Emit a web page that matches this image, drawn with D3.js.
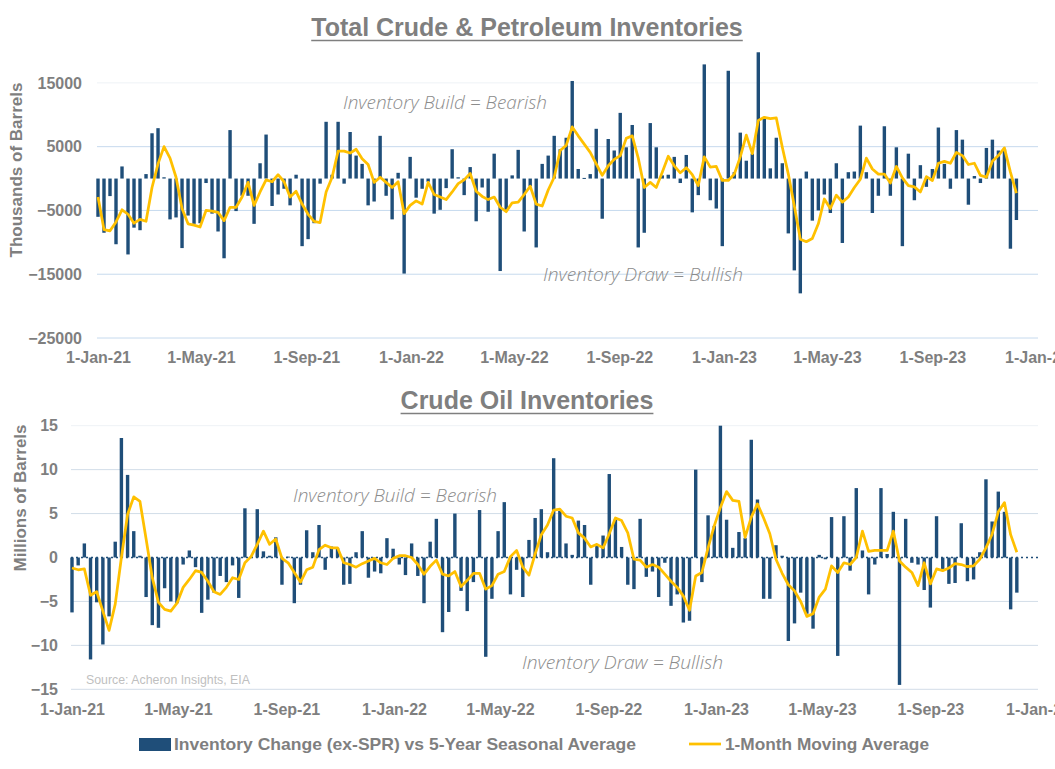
<!DOCTYPE html>
<html>
<head>
<meta charset="utf-8">
<script src="https://cdn.jsdelivr.net/npm/d3@7"></script>
<style>
  body { margin: 0; background: #fff; }
  text { font-family: "Liberation Sans", Arial, sans-serif; }
</style>
</head>
<body>
<div class="article"></div>
<script>
// weekly data, first week ending 1-Jan-21
var startDate = new Date(2021, 0, 1);
var weekCount = 154;

// total crude & petroleum, thousands of barrels vs 5-yr seasonal
var totalChange = [-6000,-8500,-2750,-10300,1900,-11900,-7700,-8100,700,7100,
  7900,200,-6400,-6100,-10900,-5800,-7100,-7000,-700,-5500,
  -8300,-12500,7600,-5100,-2700,-2700,-7100,2400,6900,-4300,
  -2500,-1600,-4200,600,-10600,-9500,-7000,-800,8900,600,
  8900,-800,7300,3600,2300,-4200,-3600,6700,-2700,-6400,
  900,-14900,3400,-3000,-1600,-500,-5500,-4900,-1500,4600,
  200,-2600,1800,-6700,-1400,-5200,3900,-14500,-4900,500,
  4500,-8300,-1200,-10800,2300,3600,6700,4600,6400,15300,
  1500,100,700,7800,-6300,6200,4400,10300,4900,8400,
  -10800,-8500,8700,4900,500,600,3400,-700,3700,-5300,
  -2600,17900,-3400,-4700,-10600,16900,1000,7200,2800,3900,
  19800,9600,1600,6400,2400,-8600,-14400,-18000,1100,-6600,
  -5000,-2500,-5400,2400,-10100,1000,1100,8300,1000,-5400,
  -2700,8200,-2700,4900,-10600,3900,-3400,2100,-1300,1500,
  8000,2300,-1600,7600,6100,-4100,400,-700,4800,6100,
  4400,4600,-11000,-6500];

var totalAvg = [-2900,-8000,-8200,-6800,-4900,-5600,-7000,-6400,-6700,-1400,
  2300,5000,3200,200,-4700,-7100,-7300,-7600,-5000,-5100,
  -5300,-6600,-4500,-4500,-2900,-600,-4200,-2100,-200,-500,
  600,-500,-2900,-2000,-4000,-5600,-6700,-6900,-2100,200,
  4300,4300,4000,4600,3100,2200,-600,200,-600,-1400,
  -500,-5500,-4200,-3500,-4000,-600,-2500,-2900,-3300,-2100,
  -800,-200,800,-2000,-2800,-3300,-2900,-4500,-5200,-3800,
  -3700,-2500,-1200,-4000,-4300,-1800,200,4400,5200,8100,
  6700,5400,4100,2300,500,2000,3000,3600,6300,6700,
  3200,-1400,-600,-1400,1000,3500,2000,900,1700,600,
  -1100,3400,1800,1900,-300,-300,700,3400,6800,3900,
  9100,9600,9400,9500,4900,700,-4300,-9500,-9900,-9400,
  -7100,-3200,-4700,-2600,-3700,-2900,-1400,-100,3200,1500,
  700,700,-700,1900,100,-1100,-1300,-2100,300,-300,
  2400,2700,2400,4100,3600,2200,2400,500,200,2700,
  3600,4800,1000,-2300];

// crude oil, millions of barrels vs 5-yr seasonal
var crudeChange = [-6.25,-0.9,1.6,-11.6,-5.1,-9.9,-6.7,1.8,13.6,9.4,
  3.0,0.2,-4.5,-7.7,-8.0,-3.5,-5.0,-5.2,-0.8,0.8,
  -1.1,-6.3,-4.8,-4.0,-2.1,-2.8,-0.9,-4.6,5.6,0.1,
  5.5,0.7,0.2,2.3,-3.1,0.1,-5.2,-3.1,3.1,0.6,
  3.7,-1.4,1.25,1.1,-3.1,-3.0,0.6,3.0,-2.3,-1.6,
  -1.8,2.2,1.0,-0.8,-2.0,1.6,-2.1,-5.2,1.8,4.4,
  -8.5,-6.2,5.0,-3.8,-6.1,-2.8,5.4,-11.3,-4.7,3.0,
  6.3,-4.2,-1.4,-4.5,2.0,4.5,5.5,0.6,11.3,5.3,
  1.6,0.3,4.2,3.7,-3.1,1.3,2.5,9.5,4.4,1.2,
  -3.1,-3.6,4.4,-2.2,-1.6,-4.5,-0.6,-5.5,-4.2,-7.4,
  -7.2,10.0,-2.8,4.8,3.6,15.0,4.3,1.1,2.9,2.2,
  13.4,6.6,-4.7,-4.7,1.4,0.2,-9.5,-7.5,-4.0,-6.4,
  -8.1,0.3,-0.2,4.6,-11.2,4.7,-1.5,7.9,0.8,-4.2,
  -0.8,7.9,0.4,5.2,-14.5,4.4,-0.6,-0.8,-3.7,-5.7,
  4.7,-1.3,-3.0,-2.9,3.9,-2.7,-2.5,0.6,8.9,4.1,
  7.5,5.2,-5.9,-4.0];

var crudeAvg = [-1.2,-1.4,-1.3,-4.3,-3.9,-6.1,-8.3,-5.3,0,4.9,
  6.9,6.4,2.1,-2.3,-5.1,-5.9,-6.1,-5.2,-3.4,-2.5,
  -1.5,-1.7,-2.7,-3.9,-4.2,-3.4,-2.3,-2.5,-0.6,0.1,
  1.5,3.0,1.5,2.1,-0.1,-0.6,-1.7,-2.8,-1.4,-1.1,
  0.9,1.4,1.1,1.1,-0.6,-0.8,-1.1,-0.7,-0.4,-0.1,
  -0.6,-0.8,-0.1,0.2,0.2,0.0,-0.8,-1.9,-1.0,-0.3,
  -1.9,-2.1,-1.6,-3.3,-2.6,-1.8,-1.8,-3.6,-3.2,-1.9,
  -1.6,0.1,0.8,-1.1,-2.0,0.4,2.6,3.7,5.4,5.5,
  4.7,4.5,2.8,2.2,1.2,1.5,1.1,2.7,4.5,4.2,
  2.8,-0.2,-0.3,-1.1,-0.8,-1.1,-1.9,-2.7,-3.4,-4.4,
  -6.0,-2.1,-1.7,1.1,3.6,5.7,7.5,6.5,6.4,2.3,
  4.6,6.1,4.5,2.7,-0.2,-1.8,-3.1,-3.8,-5.0,-6.7,
  -6.4,-4.5,-3.6,-0.95,-1.7,-0.6,-0.8,0,3.0,0.7,
  0.8,0.8,0.8,3.0,-0.4,-1.1,-1.7,-3.2,-0.6,-3.0,
  -1.3,-1.5,-1.2,-0.7,-0.8,-1.05,-0.95,-0.2,1.1,2.65,
  5.2,6.25,2.6,0.6];

// tick labels
var dateTicks = ["1-Jan-21","1-May-21","1-Sep-21","1-Jan-22","1-May-22","1-Sep-22",
  "1-Jan-23","1-May-23","1-Sep-23","1-Jan-24"];
var totalTicks = [15000, 5000, -5000, -15000, -25000];
var crudeTicks = [15, 10, 5, 0, -5, -10, -15];

var svgWidth = 1055;
var svgHeight = 769;
var barColor = "#1f4e79";
var lineColor = "#ffc000";
var greyText = "#7f7f7f";

var parseTick = d3.timeParse("%d-%b-%y");
var weeks = d3.range(weekCount).map(i => d3.timeDay.offset(startDate, 7 * i));
var tickDates = dateTicks.map(parseTick);

var svg = d3.select(".article")
  .append("svg")
  .attr("width", svgWidth)
  .attr("height", svgHeight);

svg.append("rect").attr("width", svgWidth).attr("height", svgHeight).attr("fill", "#fff");

function drawPanel(p) {
  var xScale = d3.scaleTime()
    .domain([new Date(2021, 0, 1), new Date(2024, 0, 1)])
    .range([p.left, p.right]);

  var yScale = d3.scaleLinear()
    .domain(p.yDomain)
    .range([p.bottom, p.top]);

  var g = svg.append("g");

  //gridlines
  g.append("g")
    .selectAll("line")
    .data(p.ticks.filter(t => t !== 0))
    .enter()
    .append("line")
    .attr("x1", p.left - 1)
    .attr("x2", p.gridRight)
    .attr("y1", d => yScale(d))
    .attr("y2", d => yScale(d))
    .attr("stroke", d => d === p.ticks[0] ? "#eef2f6" : p.gridColor)
    .attr("stroke-width", 1);

  if (p.dotZero) {
    g.append("line")
      .attr("x1", p.left - 1)
      .attr("x2", p.gridRight)
      .attr("y1", yScale(0))
      .attr("y2", yScale(0))
      .attr("stroke", barColor)
      .attr("stroke-width", 1.5)
      .attr("stroke-dasharray", "2,3");
  }

  //bars
  var bw = 3.4;
  g.append("g")
    .selectAll("rect")
    .data(p.values)
    .enter()
    .append("rect")
    .attr("x", (d, i) => xScale(weeks[i]) - bw / 2)
    .attr("y", d => yScale(Math.max(0, d)))
    .attr("width", bw)
    .attr("height", d => Math.max(1, Math.abs(yScale(d) - yScale(0))))
    .attr("fill", barColor);

  //moving average
  var line = d3.line()
    .x((d, i) => xScale(weeks[i]))
    .y(d => yScale(d));

  g.append("path")
    .datum(p.avg)
    .attr("d", line)
    .attr("fill", "none")
    .attr("stroke", lineColor)
    .attr("stroke-width", 2.75)
    .attr("stroke-linejoin", "round");

  //axes
  var leftAxis = d3.axisLeft(yScale)
    .tickValues(p.ticks)
    .tickSize(0)
    .tickPadding(p.left - p.labelRight)
    .tickFormat(d3.format("d"));

  var bottomAxis = d3.axisBottom(xScale)
    .tickValues(tickDates)
    .tickSize(0)
    .tickPadding(14)
    .tickFormat((d, i) => dateTicks[i]);

  var ya = g.append("g")
    .attr("transform", `translate(${p.left}, 0)`)
    .call(leftAxis);
  var xa = g.append("g")
    .attr("transform", `translate(0, ${p.bottom})`)
    .call(bottomAxis);

  [ya, xa].forEach(a => {
    a.select(".domain").remove();
    a.selectAll("text")
      .attr("fill", greyText)
      .attr("font-size", "16px")
      .attr("font-weight", "bold")
      .style("font-family", "'Liberation Sans', Arial, sans-serif");
  });

  //axis title
  g.append("text")
    .attr("transform", `translate(${p.yTitleX}, ${p.yTitleY}) rotate(-90)`)
    .attr("text-anchor", "middle")
    .attr("dominant-baseline", "central")
    .attr("fill", greyText)
    .attr("font-size", "17px")
    .attr("font-weight", "bold")
    .attr("textLength", p.yTitleLen)
    .attr("lengthAdjust", "spacingAndGlyphs")
    .text(p.yTitle);

  //chart title with underline
  var title = g.append("text")
    .attr("x", 527)
    .attr("y", p.titleY)
    .attr("text-anchor", "middle")
    .attr("fill", greyText)
    .attr("font-size", "25px")
    .attr("font-weight", "bold")
    .text(p.title);
  var tw = title.node().getComputedTextLength();
  g.append("line")
    .attr("x1", 527 - tw / 2)
    .attr("x2", 527 + tw / 2)
    .attr("y1", p.titleY + 4.5)
    .attr("y2", p.titleY + 4.5)
    .attr("stroke", greyText)
    .attr("stroke-width", 1.5);

  //annotations
  p.notes.forEach(n => {
    g.append("text")
      .attr("x", n.x)
      .attr("y", n.y)
      .attr("fill", "#8c8c8c")
      .attr("font-size", "19px")
      .attr("font-style", "italic")
      .attr("font-weight", 300)
      .attr("textLength", n.w)
      .attr("lengthAdjust", "spacingAndGlyphs")
      .style("font-family", "'Open Sans', 'Noto Sans', sans-serif")
      .text(n.text);
  });
}

drawPanel({
  values: totalChange, avg: totalAvg, ticks: totalTicks,
  yDomain: [-25000, 20000], left: 98, right: 1037, gridRight: 1038,
  top: 51, bottom: 338, labelRight: 82, gridColor: "#c6daee",
  yTitle: "Thousands of Barrels", yTitleX: 16, yTitleY: 170, yTitleLen: 175,
  title: "Total Crude & Petroleum Inventories", titleY: 36,
  notes: [
    {text: "Inventory Build = Bearish", x: 343, y: 109, w: 204},
    {text: "Inventory Draw = Bullish", x: 543, y: 281, w: 200}
  ]
});

drawPanel({
  values: crudeChange, avg: crudeAvg, ticks: crudeTicks,
  yDomain: [-15, 15], left: 72, right: 1038, gridRight: 1038,
  top: 425.7, bottom: 689.3, labelRight: 58, gridColor: "#d2dde8",
  dotZero: true,
  yTitle: "Millions of Barrels", yTitleX: 20, yTitleY: 498, yTitleLen: 147,
  title: "Crude Oil Inventories", titleY: 409,
  notes: [
    {text: "Inventory Build = Bearish", x: 293, y: 502, w: 204},
    {text: "Inventory Draw = Bullish", x: 522, y: 669, w: 201}
  ]
});

// source note
svg.append("text")
  .attr("x", 86)
  .attr("y", 684)
  .attr("fill", "#bfbfbf")
  .attr("font-size", "13px")
  .attr("textLength", 164)
  .attr("lengthAdjust", "spacingAndGlyphs")
  .text("Source: Acheron Insights, EIA");

// legend
var legend = svg.append("g");
legend.append("rect")
  .attr("x", 139).attr("y", 738)
  .attr("width", 32).attr("height", 13)
  .attr("fill", barColor);
legend.append("text")
  .attr("x", 174).attr("y", 750)
  .attr("fill", greyText)
  .attr("font-size", "17px")
  .attr("font-weight", "bold")
  .attr("textLength", 462)
  .attr("lengthAdjust", "spacingAndGlyphs")
  .text("Inventory Change (ex-SPR) vs 5-Year Seasonal Average");
legend.append("line")
  .attr("x1", 689).attr("x2", 721)
  .attr("y1", 744).attr("y2", 744)
  .attr("stroke", lineColor)
  .attr("stroke-width", 2.75);
legend.append("text")
  .attr("x", 725).attr("y", 750)
  .attr("fill", greyText)
  .attr("font-size", "17px")
  .attr("font-weight", "bold")
  .attr("textLength", 204)
  .attr("lengthAdjust", "spacingAndGlyphs")
  .text("1-Month Moving Average");
</script>
</body>
</html>
